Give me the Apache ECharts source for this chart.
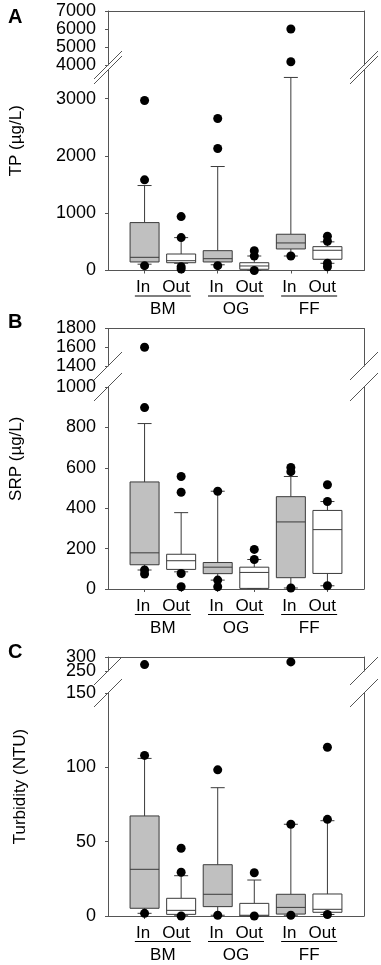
<!DOCTYPE html>
<html>
<head>
<meta charset="utf-8">
<script src="https://cdn.jsdelivr.net/npm/echarts@6/dist/echarts.min.js"></script>
<style>
  html, body { margin: 0; padding: 0; background: #fff; }
  #chart { width: 381px; height: 965px; }
</style>
</head>
<body>
<div id="chart"></div>
<script>
const categories = ['In', 'Out', 'In', 'Out', 'In', 'Out']
const groups = ['BM', 'OG', 'FF']

// each box: [lower whisker, Q1, median, Q3, upper whisker]
const tpBoxes = [
  [110, 149, 230, 836, 1483],
  [126, 136, 171, 288, 574],
  [100, 149, 206, 346, 1815],
  [0, 21, 79, 136, 253],
  [253, 376, 481, 633, 3370],
  [126, 196, 353, 416, 500]
]
// outliers: [category index, value]
const tpOutliers = [
  [0, 84], [0, 1582], [0, 2967],
  [1, 26], [1, 66], [1, 574], [1, 941],
  [2, 84], [2, 2129], [2, 2653],
  [3, 0], [3, 253], [3, 346],
  [4, 253], [4, 4183], [4, 6000],
  [5, 66], [5, 126], [5, 510], [5, 597]
]
const tpLowerTicks = [0, 1000, 2000, 3000]
const tpUpperTicks = [4000, 5000, 6000, 7000]

const srpBoxes = [
  [94, 120, 179, 530, 819],
  [85, 97, 140, 172, 378],
  [44, 76, 108, 131, 484],
  [3, 3, 82, 108, 146],
  [5, 56, 332, 457, 557],
  [16, 77, 294, 389, 433]
]
const srpOutliers = [
  [0, 74], [0, 94], [0, 898], [0, 1600],
  [1, 11], [1, 77], [1, 479], [1, 557],
  [2, 11], [2, 44], [2, 484],
  [3, 146], [3, 196],
  [4, 5], [4, 581], [4, 602],
  [5, 16], [5, 433], [5, 516]
]
const srpLowerTicks = [0, 200, 400, 600, 800, 1000]
const srpUpperTicks = [1400, 1600, 1800]

const turbBoxes = [
  [1.8, 5.2, 31.4, 67.3, 106],
  [0.5, 1.1, 3.8, 11.9, 27.1],
  [0.5, 6.3, 14.6, 34.5, 86.3],
  [0, 0, 0.5, 8.5, 24.2],
  [0.5, 1.3, 5.8, 14.6, 61.7],
  [1, 2.5, 4.5, 14.8, 64.1]
]
const turbOutliers = [
  [0, 1.8], [0, 108], [0, 273],
  [1, 0], [1, 29.4], [1, 45.6],
  [2, 0.5], [2, 98.3],
  [3, 0], [3, 29.1],
  [4, 0.5], [4, 61.7], [4, 282.5],
  [5, 1], [5, 65], [5, 113.5]
]
const turbLowerTicks = [0, 50, 100, 150]
const turbUpperTicks = [250, 300]

const FONT = "'Liberation Sans', Arial, sans-serif"
const FRAME = '#555'
const BOX_LINE = '#3a3a3a'
const boxFills = { In: '#c0c0c0', Out: '#ffffff' }
const GRID_LEFT = 108
const GRID_RIGHT = 17

const panels = [
  {
    letter: 'A', letterTop: 2, title: 'TP (µg/L)', nameGap: 90,
    boxes: tpBoxes, outliers: tpOutliers,
    upper: { top: 11, bottom: 65, min: 4000, max: 7000, ticks: tpUpperTicks },
    lower: { top: 70, bottom: 270.5, min: 0, max: 3500, ticks: tpLowerTicks }
  },
  {
    letter: 'B', letterTop: 307, title: 'SRP (µg/L)', nameGap: 90,
    boxes: srpBoxes, outliers: srpOutliers,
    upper: { top: 328.5, bottom: 366, min: 1400, max: 1800, ticks: srpUpperTicks },
    lower: { top: 387, bottom: 589, min: 0, max: 1000, ticks: srpLowerTicks }
  },
  {
    letter: 'C', letterTop: 637, title: 'Turbidity (NTU)', nameGap: 79,
    boxes: turbBoxes, outliers: turbOutliers,
    upper: { top: 657, bottom: 671, min: 250, max: 300, ticks: turbUpperTicks },
    lower: { top: 693, bottom: 916, min: 0, max: 150, ticks: turbLowerTicks }
  }
]

const catX = categories.map((c, i) => i + 1)
const groupX = groups.map((g, i) => 1.5 + i * 2)

const renderBox = (params, api) => {
  const x = api.value(0)
  const lo = api.coord([x, api.value(1)])
  const q1 = api.coord([x, api.value(2)])
  const md = api.coord([x, api.value(3)])
  const q3 = api.coord([x, api.value(4)])
  const hi = api.coord([x, api.value(5)])
  const cx = lo[0]
  const half = 14.5
  const cap = 7
  const line = { stroke: BOX_LINE, lineWidth: 1 }
  return {
    type: 'group',
    children: [
      { type: 'line', shape: { x1: cx, y1: q3[1], x2: cx, y2: hi[1] }, style: line },
      { type: 'line', shape: { x1: cx - cap, y1: hi[1], x2: cx + cap, y2: hi[1] }, style: line },
      { type: 'line', shape: { x1: cx, y1: q1[1], x2: cx, y2: lo[1] }, style: line },
      { type: 'line', shape: { x1: cx - cap, y1: lo[1], x2: cx + cap, y2: lo[1] }, style: line },
      {
        type: 'rect',
        shape: { x: cx - half, y: q3[1], width: half * 2, height: q1[1] - q3[1] },
        style: { fill: boxFills[categories[x - 1]], stroke: BOX_LINE, lineWidth: 1 }
      },
      { type: 'line', shape: { x1: cx - half, y1: md[1], x2: cx + half, y2: md[1] }, style: line }
    ]
  }
}

const grids = []
const xAxes = []
const yAxes = []
const series = []
const titles = []
const graphics = []

const hiddenAxis = { show: false }
const lineOnly = {
  axisLine: { show: true, lineStyle: { color: FRAME, width: 1 } },
  axisTick: { show: false },
  axisLabel: { show: false },
  splitLine: { show: false }
}

panels.forEach((p) => {
  const gUp = grids.length
  grids.push({ left: GRID_LEFT, right: GRID_RIGHT, top: p.upper.top, height: p.upper.bottom - p.upper.top })
  const gLo = grids.length
  grids.push({ left: GRID_LEFT, right: GRID_RIGHT, top: p.lower.top, height: p.lower.bottom - p.lower.top })
  const gName = grids.length
  grids.push({ left: GRID_LEFT, right: GRID_RIGHT, top: p.upper.top, height: p.lower.bottom - p.upper.top })

  // x axes
  const xUp = xAxes.length
  xAxes.push({ gridIndex: gUp, type: 'value', min: 0, max: 7, position: 'top', ...lineOnly })
  const xLo = xAxes.length
  xAxes.push({
    gridIndex: gLo, type: 'value', min: 0, max: 7, position: 'bottom',
    axisLine: { show: true, lineStyle: { color: FRAME, width: 1 } },
    axisTick: { show: true, customValues: catX, length: 3, lineStyle: { color: FRAME } },
    splitLine: { show: false },
    axisLabel: {
      customValues: groupX,
      margin: 9,
      color: '#000',
      fontFamily: FONT,
      hideOverlap: false,
      formatter: (v) => {
        const k = Math.round((v - 1.5) / 2)
        return '{i|' + categories[2 * k] + '}{o|' + categories[2 * k + 1] + '}\n{u| }\n{g|' + groups[k] + '}'
      },
      rich: {
        i: { fontSize: 17, lineHeight: 16, fontFamily: FONT, color: '#000' },
        o: { fontSize: 17, lineHeight: 16, fontFamily: FONT, color: '#000', padding: [0, 0, 0, 12] },
        u: { width: 56, height: 1, lineHeight: 1, fontSize: 1, backgroundColor: '#000' },
        g: { fontSize: 17, lineHeight: 26, fontFamily: FONT, color: '#000' }
      }
    }
  })
  xAxes.push({ gridIndex: gName, type: 'value', min: 0, max: 7, ...hiddenAxis })

  // y axes: labels split over two overlaid axes so close labels are never dropped
  const labelStyle = (values) => ({
    customValues: values, margin: 12, color: '#000', fontSize: 18, fontFamily: FONT,
    hideOverlap: false, showMinLabel: true, showMaxLabel: true,
    formatter: (v) => String(v)
  })
  const addLeftAxes = (grid, seg) => {
    const idx = yAxes.length
    yAxes.push({
      gridIndex: grid, type: 'value', min: seg.min, max: seg.max, position: 'left',
      axisLine: { show: true, lineStyle: { color: FRAME, width: 1 } },
      axisTick: { show: true, customValues: seg.ticks, length: 3, lineStyle: { color: FRAME } },
      axisLabel: labelStyle(seg.ticks.filter((t, i) => i % 2 === 0)),
      splitLine: { show: false }
    })
    yAxes.push({
      gridIndex: grid, type: 'value', min: seg.min, max: seg.max, position: 'left', offset: 0,
      axisLine: { show: false }, axisTick: { show: false }, splitLine: { show: false },
      axisLabel: labelStyle(seg.ticks.filter((t, i) => i % 2 === 1))
    })
    yAxes.push({ gridIndex: grid, type: 'value', min: seg.min, max: seg.max, position: 'right', ...lineOnly })
    return idx
  }
  const yUp = addLeftAxes(gUp, p.upper)
  const yLo = addLeftAxes(gLo, p.lower)
  yAxes.push({
    gridIndex: gName, type: 'value', min: 0, max: 1,
    name: p.title, nameLocation: 'middle', nameGap: p.nameGap,
    nameTextStyle: { fontSize: 17, fontFamily: FONT, color: '#000' },
    axisLine: { show: false }, axisTick: { show: false }, axisLabel: { show: false }, splitLine: { show: false }
  })

  series.push({
    type: 'custom',
    xAxisIndex: xLo,
    yAxisIndex: yLo,
    renderItem: renderBox,
    encode: { x: 0, y: [1, 2, 3, 4, 5] },
    data: p.boxes.map((b, i) => [catX[i], ...b]),
    z: 2
  })
  const dot = {
    type: 'scatter', symbol: 'circle', symbolSize: 9,
    itemStyle: { color: '#000', opacity: 1 }, z: 3, silent: true
  }
  series.push({
    ...dot, xAxisIndex: xLo, yAxisIndex: yLo,
    data: p.outliers.filter(o => o[1] <= p.lower.max).map(o => [catX[o[0]], o[1]])
  })
  series.push({
    ...dot, xAxisIndex: xUp, yAxisIndex: yUp,
    data: p.outliers.filter(o => o[1] > p.lower.max).map(o => [catX[o[0]], o[1]])
  })

  titles.push({
    text: p.letter, left: 3, top: p.letterTop,
    textStyle: { fontSize: 20, fontWeight: 'bold', fontFamily: FONT, color: '#000' }
  })

  // axis break marks
  ;[GRID_LEFT, 381 - GRID_RIGHT].forEach((x) => {
    ;[p.upper.bottom, p.lower.top].forEach((yb) => {
      graphics.push({
        type: 'line', z: 10,
        shape: { x1: x - 14, y1: yb + 14, x2: x + 14, y2: yb - 14 },
        style: { stroke: FRAME, lineWidth: 1 }
      })
    })
  })
})

const chart = echarts.init(document.getElementById('chart'))
chart.setOption({
  backgroundColor: '#fff',
  animation: false,
  title: titles,
  grid: grids,
  xAxis: xAxes,
  yAxis: yAxes,
  series,
  graphic: graphics
})
</script>
</body>
</html>
